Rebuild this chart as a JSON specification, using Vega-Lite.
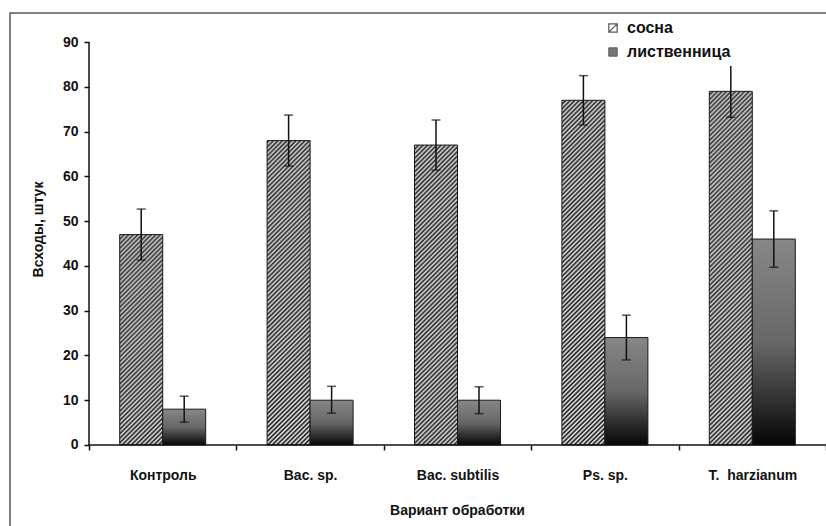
{
  "$schema": "https://vega.github.io/schema/vega-lite/v6.json",
  "autosize": {"type": "none"},
  "padding": {"left": 10, "top": 13, "right": 0, "bottom": 0},
  "width": 816,
  "height": 513,
  "background": "white",
  "params": [
    {
      "name": "hatch",
      "value": [
        {"offset":0,"color":"#000"},{"offset":0.005,"color":"#fff"},{"offset":0.01,"color":"#000"},{"offset":0.015,"color":"#fff"},{"offset":0.02,"color":"#000"},{"offset":0.025,"color":"#fff"},{"offset":0.03,"color":"#000"},{"offset":0.035,"color":"#fff"},{"offset":0.04,"color":"#000"},{"offset":0.045,"color":"#fff"},
        {"offset":0.05,"color":"#000"},{"offset":0.055,"color":"#fff"},{"offset":0.06,"color":"#000"},{"offset":0.065,"color":"#fff"},{"offset":0.07,"color":"#000"},{"offset":0.075,"color":"#fff"},{"offset":0.08,"color":"#000"},{"offset":0.085,"color":"#fff"},{"offset":0.09,"color":"#000"},{"offset":0.095,"color":"#fff"},
        {"offset":0.1,"color":"#000"},{"offset":0.105,"color":"#fff"},{"offset":0.11,"color":"#000"},{"offset":0.115,"color":"#fff"},{"offset":0.12,"color":"#000"},{"offset":0.125,"color":"#fff"},{"offset":0.13,"color":"#000"},{"offset":0.135,"color":"#fff"},{"offset":0.14,"color":"#000"},{"offset":0.145,"color":"#fff"},
        {"offset":0.15,"color":"#000"},{"offset":0.155,"color":"#fff"},{"offset":0.16,"color":"#000"},{"offset":0.165,"color":"#fff"},{"offset":0.17,"color":"#000"},{"offset":0.175,"color":"#fff"},{"offset":0.18,"color":"#000"},{"offset":0.185,"color":"#fff"},{"offset":0.19,"color":"#000"},{"offset":0.195,"color":"#fff"},
        {"offset":0.2,"color":"#000"},{"offset":0.205,"color":"#fff"},{"offset":0.21,"color":"#000"},{"offset":0.215,"color":"#fff"},{"offset":0.22,"color":"#000"},{"offset":0.225,"color":"#fff"},{"offset":0.23,"color":"#000"},{"offset":0.235,"color":"#fff"},{"offset":0.24,"color":"#000"},{"offset":0.245,"color":"#fff"},
        {"offset":0.25,"color":"#000"},{"offset":0.255,"color":"#fff"},{"offset":0.26,"color":"#000"},{"offset":0.265,"color":"#fff"},{"offset":0.27,"color":"#000"},{"offset":0.275,"color":"#fff"},{"offset":0.28,"color":"#000"},{"offset":0.285,"color":"#fff"},{"offset":0.29,"color":"#000"},{"offset":0.295,"color":"#fff"},
        {"offset":0.3,"color":"#000"},{"offset":0.305,"color":"#fff"},{"offset":0.31,"color":"#000"},{"offset":0.315,"color":"#fff"},{"offset":0.32,"color":"#000"},{"offset":0.325,"color":"#fff"},{"offset":0.33,"color":"#000"},{"offset":0.335,"color":"#fff"},{"offset":0.34,"color":"#000"},{"offset":0.345,"color":"#fff"},
        {"offset":0.35,"color":"#000"},{"offset":0.355,"color":"#fff"},{"offset":0.36,"color":"#000"},{"offset":0.365,"color":"#fff"},{"offset":0.37,"color":"#000"},{"offset":0.375,"color":"#fff"},{"offset":0.38,"color":"#000"},{"offset":0.385,"color":"#fff"},{"offset":0.39,"color":"#000"},{"offset":0.395,"color":"#fff"},
        {"offset":0.4,"color":"#000"},{"offset":0.405,"color":"#fff"},{"offset":0.41,"color":"#000"},{"offset":0.415,"color":"#fff"},{"offset":0.42,"color":"#000"},{"offset":0.425,"color":"#fff"},{"offset":0.43,"color":"#000"},{"offset":0.435,"color":"#fff"},{"offset":0.44,"color":"#000"},{"offset":0.445,"color":"#fff"},
        {"offset":0.45,"color":"#000"},{"offset":0.455,"color":"#fff"},{"offset":0.46,"color":"#000"},{"offset":0.465,"color":"#fff"},{"offset":0.47,"color":"#000"},{"offset":0.475,"color":"#fff"},{"offset":0.48,"color":"#000"},{"offset":0.485,"color":"#fff"},{"offset":0.49,"color":"#000"},{"offset":0.495,"color":"#fff"},
        {"offset":0.5,"color":"#000"},{"offset":0.505,"color":"#fff"},{"offset":0.51,"color":"#000"},{"offset":0.515,"color":"#fff"},{"offset":0.52,"color":"#000"},{"offset":0.525,"color":"#fff"},{"offset":0.53,"color":"#000"},{"offset":0.535,"color":"#fff"},{"offset":0.54,"color":"#000"},{"offset":0.545,"color":"#fff"},
        {"offset":0.55,"color":"#000"},{"offset":0.555,"color":"#fff"},{"offset":0.56,"color":"#000"},{"offset":0.565,"color":"#fff"},{"offset":0.57,"color":"#000"},{"offset":0.575,"color":"#fff"},{"offset":0.58,"color":"#000"},{"offset":0.585,"color":"#fff"},{"offset":0.59,"color":"#000"},{"offset":0.595,"color":"#fff"},
        {"offset":0.6,"color":"#000"},{"offset":0.605,"color":"#fff"},{"offset":0.61,"color":"#000"},{"offset":0.615,"color":"#fff"},{"offset":0.62,"color":"#000"},{"offset":0.625,"color":"#fff"},{"offset":0.63,"color":"#000"},{"offset":0.635,"color":"#fff"},{"offset":0.64,"color":"#000"},{"offset":0.645,"color":"#fff"},
        {"offset":0.65,"color":"#000"},{"offset":0.655,"color":"#fff"},{"offset":0.66,"color":"#000"},{"offset":0.665,"color":"#fff"},{"offset":0.67,"color":"#000"},{"offset":0.675,"color":"#fff"},{"offset":0.68,"color":"#000"},{"offset":0.685,"color":"#fff"},{"offset":0.69,"color":"#000"},{"offset":0.695,"color":"#fff"},
        {"offset":0.7,"color":"#000"},{"offset":0.705,"color":"#fff"},{"offset":0.71,"color":"#000"},{"offset":0.715,"color":"#fff"},{"offset":0.72,"color":"#000"},{"offset":0.725,"color":"#fff"},{"offset":0.73,"color":"#000"},{"offset":0.735,"color":"#fff"},{"offset":0.74,"color":"#000"},{"offset":0.745,"color":"#fff"},
        {"offset":0.75,"color":"#000"},{"offset":0.755,"color":"#fff"},{"offset":0.76,"color":"#000"},{"offset":0.765,"color":"#fff"},{"offset":0.77,"color":"#000"},{"offset":0.775,"color":"#fff"},{"offset":0.78,"color":"#000"},{"offset":0.785,"color":"#fff"},{"offset":0.79,"color":"#000"},{"offset":0.795,"color":"#fff"},
        {"offset":0.8,"color":"#000"},{"offset":0.805,"color":"#fff"},{"offset":0.81,"color":"#000"},{"offset":0.815,"color":"#fff"},{"offset":0.82,"color":"#000"},{"offset":0.825,"color":"#fff"},{"offset":0.83,"color":"#000"},{"offset":0.835,"color":"#fff"},{"offset":0.84,"color":"#000"},{"offset":0.845,"color":"#fff"},
        {"offset":0.85,"color":"#000"},{"offset":0.855,"color":"#fff"},{"offset":0.86,"color":"#000"},{"offset":0.865,"color":"#fff"},{"offset":0.87,"color":"#000"},{"offset":0.875,"color":"#fff"},{"offset":0.88,"color":"#000"},{"offset":0.885,"color":"#fff"},{"offset":0.89,"color":"#000"},{"offset":0.895,"color":"#fff"},
        {"offset":0.9,"color":"#000"},{"offset":0.905,"color":"#fff"},{"offset":0.91,"color":"#000"},{"offset":0.915,"color":"#fff"},{"offset":0.92,"color":"#000"},{"offset":0.925,"color":"#fff"},{"offset":0.93,"color":"#000"},{"offset":0.935,"color":"#fff"},{"offset":0.94,"color":"#000"},{"offset":0.945,"color":"#fff"},
        {"offset":0.95,"color":"#000"},{"offset":0.955,"color":"#fff"},{"offset":0.96,"color":"#000"},{"offset":0.965,"color":"#fff"},{"offset":0.97,"color":"#000"},{"offset":0.975,"color":"#fff"},{"offset":0.98,"color":"#000"},{"offset":0.985,"color":"#fff"},{"offset":0.99,"color":"#000"},{"offset":0.995,"color":"#fff"},
        {"offset":1,"color":"#000"}
      ]
    }
  ],
  "data": {
    "values": [
      {"variant": "Контроль", "s": "сосна", "v": 47, "lo": 41.3, "hi": 52.7},
      {"variant": "Контроль", "s": "лиственница", "v": 8, "lo": 5.1, "hi": 10.9},
      {"variant": "Bac. sp.", "s": "сосна", "v": 68, "lo": 62.3, "hi": 73.7},
      {"variant": "Bac. sp.", "s": "лиственница", "v": 10, "lo": 7.1, "hi": 13.1},
      {"variant": "Bac. subtilis", "s": "сосна", "v": 67, "lo": 61.4, "hi": 72.6},
      {"variant": "Bac. subtilis", "s": "лиственница", "v": 10, "lo": 7.0, "hi": 13.0},
      {"variant": "Ps. sp.", "s": "сосна", "v": 77, "lo": 71.5, "hi": 82.5},
      {"variant": "Ps. sp.", "s": "лиственница", "v": 24, "lo": 19.0, "hi": 29.0},
      {"variant": "T. \u00a0harzianum", "s": "сосна", "v": 79, "lo": 73.2, "hi": 85.0},
      {"variant": "T. \u00a0harzianum", "s": "лиственница", "v": 46, "lo": 39.7, "hi": 52.3}
    ]
  },
  "encoding": {
    "x": {
      "field": "variant",
      "type": "nominal",
      "title": "Вариант обработки",
      "sort": ["Контроль", "Bac. sp.", "Bac. subtilis", "Ps. sp.", "T. \u00a0harzianum"],
      "scale": {
        "domain": ["Контроль", "Bac. sp.", "Bac. subtilis", "Ps. sp.", "T. \u00a0harzianum"],
        "paddingInner": 0,
        "paddingOuter": 0.268,
        "align": 1
      },
      "axis": {
        "orient": "bottom",
        "offset": -81,
        "domain": false,
        "tickBand": "extent",
        "tickSize": 5,
        "tickWidth": 1.5,
        "tickColor": "#111",
        "labelAngle": 0,
        "labelPadding": 18,
        "titleX": 447,
        "titleY": 65,
        "titleBaseline": "middle"
      }
    }
  },
  "layer": [
    {
      "mark": {
        "type": "bar",
        "stroke": "#1a1a1a",
        "strokeWidth": 1,
        "fill": {
          "expr": "datum.s === 'сосна' ? {gradient: 'radial', x1: -70.21, y1: -70.21, r1: 100 - 35.75 / datum.v, x2: -70.21, y2: -70.21, r2: 100 + 35.75 / datum.v, stops: hatch} : {gradient: 'linear', x1: 0, y1: 0, x2: 0, y2: 1, stops: [{offset: 0, color: '#878787'}, {offset: 0.5, color: '#676767'}, {offset: 1, color: '#060606'}]}"
        }
      },
      "encoding": {
        "xOffset": {
          "field": "s",
          "type": "nominal",
          "sort": ["сосна", "лиственница"],
          "scale": {"domain": ["сосна", "лиственница"], "paddingInner": 0, "paddingOuter": 0.714}
        },
        "y": {
          "field": "v",
          "type": "quantitative",
          "title": "Всходы, штук",
          "scale": {"domain": [-18.1, 96.5], "nice": false, "zero": false},
          "axis": {
            "offset": -79,
            "domain": false,
            "values": [0, 10, 20, 30, 40, 50, 60, 70, 80, 90],
            "tickSize": 5,
            "tickWidth": 1.5,
            "tickColor": "#111",
            "labelPadding": 6,
            "titleX": -51,
            "titleY": 216,
            "titleBaseline": "middle"
          }
        },
        "y2": {"datum": 0}
      }
    },
    {
      "mark": {"type": "rule", "strokeWidth": 1.5, "color": "#111"},
      "encoding": {
        "xOffset": {"field": "s", "type": "nominal", "sort": ["сосна", "лиственница"]},
        "y": {"field": "lo", "type": "quantitative", "title": "Всходы, штук"},
        "y2": {"field": "hi"}
      }
    },
    {
      "mark": {"type": "tick", "orient": "horizontal", "size": 9, "thickness": 1.5, "color": "#111"},
      "encoding": {
        "xOffset": {"field": "s", "type": "nominal", "sort": ["сосна", "лиственница"]},
        "y": {"field": "lo", "type": "quantitative", "title": "Всходы, штук"}
      }
    },
    {
      "mark": {"type": "tick", "orient": "horizontal", "size": 9, "thickness": 1.5, "color": "#111"},
      "encoding": {
        "xOffset": {"field": "s", "type": "nominal", "sort": ["сосна", "лиственница"]},
        "y": {"field": "hi", "type": "quantitative", "title": "Всходы, штук"}
      }
    },
    {
      "data": {"values": [{"axis": "y"}]},
      "mark": {"type": "rule", "strokeWidth": 1.5, "color": "#111"},
      "encoding": {
        "x": {"datum": "Контроль", "type": "nominal", "bandPosition": 0, "title": "Вариант обработки"},
        "y": {"datum": 0, "type": "quantitative", "title": "Всходы, штук"},
        "y2": {"datum": 90}
      }
    },
    {
      "data": {"values": [{"axis": "x"}]},
      "mark": {"type": "rule", "strokeWidth": 1.5, "color": "#111"},
      "encoding": {
        "x": {"datum": "Контроль", "type": "nominal", "bandPosition": 0, "title": "Вариант обработки"},
        "x2": {"value": "width"},
        "y": {"datum": 0, "type": "quantitative", "title": "Всходы, штук"}
      }
    },
    {
      "transform": [{"filter": "false"}],
      "mark": {"type": "square"},
      "encoding": {
        "fill": {
          "field": "s",
          "type": "nominal",
          "scale": {"domain": ["сосна"], "range": ["#ffffff"]},
          "legend": {
            "orient": "none",
            "legendX": 589,
            "legendY": 1,
            "padding": 6,
            "title": null,
            "symbolType": "M-1,-1H1V1H-1Z M1,-1L-1,1",
            "symbolSize": 70,
            "symbolStrokeColor": "#111",
            "symbolStrokeWidth": 1.2,
            "labelOffset": 6,
            "labelFontSize": 16
          }
        }
      }
    },
    {
      "transform": [{"filter": "false"}],
      "mark": {"type": "square"},
      "encoding": {
        "fill": {
          "field": "s",
          "type": "nominal",
          "scale": {"domain": ["лиственница"], "range": ["#3c3c3c"]},
          "legend": {
            "orient": "none",
            "legendX": 589,
            "legendY": 25,
            "padding": 6,
            "fillColor": "white",
            "title": null,
            "symbolType": "square",
            "symbolSize": 70,
            "symbolStrokeColor": "#111",
            "symbolStrokeWidth": 1,
            "labelOffset": 6,
            "labelFontSize": 16
          }
        }
      }
    }
  ],
  "resolve": {"scale": {"fill": "independent"}, "legend": {"fill": "independent"}},
  "config": {
    "view": {"stroke": "#555555", "strokeWidth": 1.5, "strokeDash": [816, 1329, 513], "fill": "white"},
    "axis": {
      "grid": false,
      "labelFont": "Liberation Sans",
      "labelFontSize": 14,
      "labelFontWeight": "bold",
      "labelColor": "#111",
      "titleFont": "Liberation Sans",
      "titleFontSize": 14,
      "titleFontWeight": "bold",
      "titleColor": "#111"
    },
    "legend": {
      "labelFont": "Liberation Sans",
      "labelFontSize": 16,
      "labelFontWeight": "bold",
      "labelColor": "#111"
    }
  }
}
